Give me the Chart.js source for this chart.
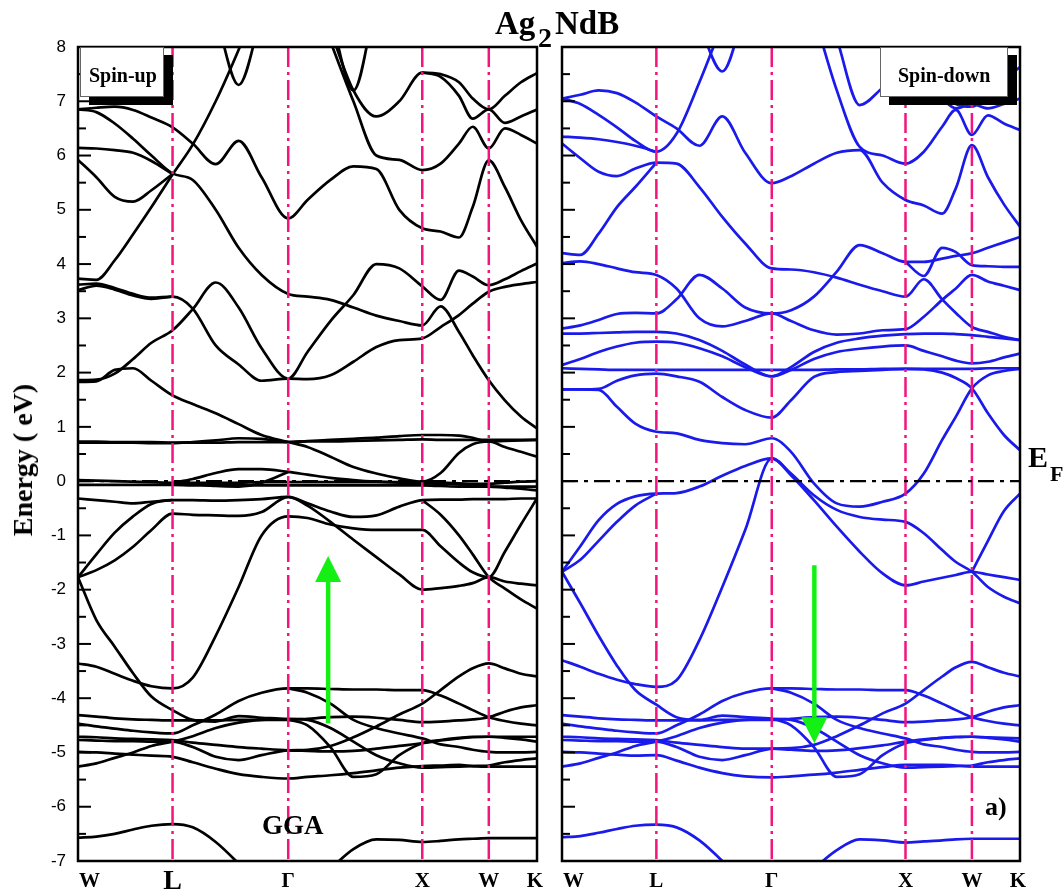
<!DOCTYPE html>
<html><head><meta charset="utf-8">
<script src="https://cdn.jsdelivr.net/npm/chart.js@4.4.1/dist/chart.umd.min.js"></script>
<style>
body{margin:0;background:#fff;}
#wrap{position:relative;width:1064px;height:890px;overflow:hidden;background:#fff}
canvas{position:absolute;left:0;top:0}
.t{position:absolute;font-family:'Liberation Serif','Times New Roman',serif;font-weight:bold;color:#000;white-space:nowrap;line-height:1}
.box{position:absolute;background:#fff;border:1px solid #666;box-shadow:9px 8px 0 0 #000;box-sizing:border-box}
</style></head><body>
<div id="wrap">
<canvas id="cUp" width="1064" height="890"></canvas>
<canvas id="cDown" width="1064" height="890"></canvas>
<div class="t" style="left:495px;top:7px;font-size:33px">Ag</div>
<div class="t" style="left:538px;top:24px;font-size:28px">2</div>
<div class="t" style="left:555px;top:7px;font-size:33px">NdB</div>
<div class="t" style="left:23px;top:460px;font-size:28px;transform:translate(-50%,-50%) rotate(-90deg)">Energy ( eV)</div>
<div class="t" style="left:1028px;top:442px;font-size:30px">E</div>
<div class="t" style="left:1050px;top:463px;font-size:22px">F</div>
<div class="box" style="left:80px;top:47px;width:84px;height:50px"></div>
<div class="t" style="left:89px;top:65px;font-size:20px">Spin-up</div>
<div class="box" style="left:880px;top:47px;width:128px;height:50px"></div>
<div class="t" style="left:898px;top:65px;font-size:20px">Spin-down</div>
<div class="t" style="left:262px;top:812px;font-size:27px">GGA</div>
<div class="t" style="left:985px;top:794px;font-size:26px">a)</div>
</div>
<script>
const N = null;
const kPath = [0,4,8,12,16,20.6,25,30,35,40,45.8,50,55,60,65,70,75,79,83,86,89.5,93,96.5,100];
const kTicks = [0,20.6,45.8,75,89.5,100];
const kLabels = ['W','L','\u0393','X','W','K'];
const nul = (n) => Array(n).fill(N);

// ---------- Spin-up bands (eV) ----------
const upBands = [
 [6.85,6.88,6.9,6.84,6.7,6.52,6.22,5.84,6.27,5.6,4.84,5.18,5.55,5.8,5.75,5.0,4.66,4.6,4.49,5.05,5.91,5.42,4.81,4.32],
 [6.85,6.8,6.59,6.31,6.0,5.67,5.55,5.0,4.3,3.8,3.45,3.4,3.34,3.2,3.05,2.95,2.87,3.22,2.75,2.32,1.86,1.49,1.19,0.97],
 [3.73,3.71,4.07,4.55,5.05,5.65,6.2,7.0,7.95,9.0,...nul(14)],
 [6.14,6.13,6.1,6.05,5.9,5.66,...nul(18)],
 [5.92,5.6,5.24,5.15,5.36,5.66,...nul(18)],
 [...nul(7),8.6,7.3,8.6,...nul(14)],
 [...nul(11),9.2,8.1,7.0,6.0,5.92,5.73,5.85,6.22,6.53,6.13,6.5,6.38,6.22],
 [...nul(12),8.3,7.2,6.72,7.0,7.53,7.5,7.35,7.05,6.85,7.1,7.35,7.52],
 [...nul(16),7.53,7.45,7.1,6.68,6.85,6.6,6.72,6.85],
 [...nul(12),8.6,7.2,8.9,...nul(9)],
 [3.62,3.64,3.56,3.45,3.38,3.40,3.18,2.5,2.15,1.85,1.89,1.88,1.95,2.2,2.47,2.6,2.63,2.84,3.06,3.27,3.49,3.58,3.63,3.67],
 [3.52,3.6,3.53,3.42,3.36,3.40,...nul(18)],
 [1.86,1.87,1.98,2.25,2.55,2.78,3.17,3.66,3.2,2.45,1.89,2.38,2.95,3.43,4.0,3.92,3.59,3.34,3.88,3.77,3.61,3.72,3.87,4.01],
 [1.83,1.84,2.05,2.08,1.85,1.58,1.42,1.25,1.05,0.85,0.72,0.63,0.45,0.26,0.14,0.05,-0.01,0.15,0.52,0.68,0.73,0.63,0.54,0.45],
 [0.73,0.73,0.72,0.72,0.72,0.71,0.71,0.71,0.72,0.72,0.72,0.73,0.73,0.74,0.75,0.76,0.77,0.76,0.76,0.76,0.76,0.76,0.76,0.76],
 [0.71,0.71,0.71,0.71,0.7,0.7,0.72,0.75,0.79,0.78,0.72,0.74,0.76,0.78,0.8,0.83,0.85,0.85,0.84,0.8,0.73,0.74,0.75,0.76],
 [0.02,0.01,0.0,-0.01,-0.02,-0.03,-0.03,-0.03,-0.03,-0.02,-0.02,-0.02,-0.02,-0.02,-0.02,-0.02,-0.02,-0.03,-0.04,-0.05,-0.05,-0.03,-0.01,0.0],
 [-0.07,-0.07,-0.07,-0.07,-0.07,-0.07,-0.08,-0.08,-0.08,-0.08,-0.08,-0.08,-0.08,-0.08,-0.08,-0.08,-0.08,-0.09,-0.1,-0.1,-0.1,-0.12,-0.14,-0.17],
 [...nul(5),-0.03,0.04,0.15,0.22,0.22,0.17,0.12,0.06,0.02,-0.01,-0.03,-0.04,-0.05,-0.06,-0.08,-0.1,-0.1,-0.1,-0.1],
 [...nul(5),-0.03,-0.05,-0.09,-0.1,-0.03,0.17,...nul(13)],
 [-0.32,-0.35,-0.38,-0.41,-0.38,-0.35,...nul(18)],
 [-1.77,-1.35,-0.95,-0.65,-0.42,-0.35,-0.35,-0.36,-0.35,-0.33,-0.29,-0.45,-0.75,-1.08,-1.4,-1.72,-2.0,-1.97,-1.93,-1.88,-1.77,-1.85,-1.89,-1.92],
 [-1.77,-1.64,-1.46,-1.21,-0.9,-0.6,-0.62,-0.63,-0.64,-0.57,-0.29,-0.41,-0.56,-0.66,-0.63,-0.47,-0.35,-0.34,-0.34,-0.33,-0.33,-0.33,-0.32,-0.32],
 [...nul(16),-0.35,-0.62,-1.0,-1.35,-1.77,-1.98,-2.18,-2.35],
 [-3.36,-3.42,-3.55,-3.68,-3.78,-3.82,-3.62,-2.85,-1.95,-1.0,-0.65,-0.68,-0.8,-0.87,-0.9,-0.9,-0.9,-1.2,-1.5,-1.68,-1.77,-1.3,-0.8,-0.32],
 [-1.77,-2.56,-3.05,-3.54,-3.97,-4.22,-4.4,-4.43,-4.33,-4.36,-4.4,-4.5,-4.9,-5.45,-5.4,-5.05,-4.83,-4.77,-4.73,-4.71,-4.71,-4.73,-4.76,-4.8],
 [-4.31,-4.34,-4.37,-4.39,-4.4,-4.41,-4.41,-4.41,-4.4,-4.4,-4.4,-4.38,-4.35,-4.34,-4.36,-4.4,-4.44,-4.43,-4.41,-4.39,-4.35,-4.25,-4.17,-4.13],
 [-4.47,-4.52,-4.56,-4.6,-4.63,-4.65,-4.5,-4.3,-4.05,-3.9,-3.82,-3.82,-3.83,-3.84,-3.84,-3.85,-3.85,-3.95,-4.1,-4.22,-4.35,-4.42,-4.47,-4.5],
 [...nul(10),-3.82,-3.9,-4.1,-4.4,-4.55,-4.65,-4.74,-4.85,-4.9,-4.95,-4.99,-5.0,-5.0,-4.99],
 [-4.71,-4.72,-4.74,-4.75,-4.76,-4.77,-4.82,-4.86,-4.9,-4.93,-4.96,-4.97,-4.98,-4.97,-4.93,-4.88,-4.83,-4.78,-4.74,-4.72,-4.71,-4.71,-4.71,-4.71],
 [-4.77,-4.78,-4.79,-4.79,-4.8,-4.8,-4.9,-5.08,-5.14,-5.05,-4.96,-4.95,-4.88,-4.72,-4.52,-4.3,-4.1,-3.85,-3.6,-3.45,-3.36,-3.45,-3.55,-3.6],
 [-4.99,-5.0,-5.02,-5.04,-5.06,-5.08,-5.18,-5.3,-5.4,-5.45,-5.48,-5.45,-5.42,-5.38,-5.33,-5.28,-5.25,-5.24,-5.23,-5.25,-5.26,-5.26,-5.26,-5.26],
 [-5.26,-5.2,-5.1,-5.0,-4.88,-4.8,-4.7,-4.55,-4.45,-4.4,-4.38,-4.4,-4.55,-4.8,-5.05,-5.2,-5.28,-5.27,-5.26,-5.25,-5.24,-5.18,-5.14,-5.11],
 [-6.57,-6.55,-6.5,-6.42,-6.35,-6.32,-6.38,-6.65,-7.05,-7.5,...nul(14)],
 [...nul(11),-7.6,-7.15,-6.78,-6.6,-6.61,-6.65,-6.63,-6.6,-6.59,-6.58,-6.58,-6.58,-6.58]
];

// ---------- Spin-down bands (eV) ----------
const downBands = [
 [7.05,7.12,7.2,7.15,6.98,6.72,6.5,6.18,6.72,6.05,5.49,5.62,5.85,6.05,6.1,5.5,5.18,5.08,4.93,5.4,6.19,5.6,5.1,4.69],
 [7.05,6.95,6.75,6.52,6.27,6.07,6.4,7.35,8.4,9.3,...nul(14)],
 [6.35,6.33,6.3,6.25,6.18,6.07,...nul(18)],
 [6.22,5.95,5.7,5.62,5.76,5.87,5.85,5.42,4.87,4.38,3.92,3.9,3.85,3.75,3.62,3.5,3.4,3.72,3.35,3.1,2.84,2.75,2.66,2.6],
 [4.2,4.17,4.56,5.05,5.42,5.87,...nul(18)],
 [...nul(7),8.4,7.55,8.7,...nul(14)],
 [...nul(12),8.6,7.2,6.16,6.0,5.85,6.07,6.53,6.84,6.38,6.74,6.59,6.47],
 [...nul(13),8.15,6.93,7.25,7.6,7.55,7.3,6.95,6.9,7.1,7.4,7.63],
 [...nul(16),7.6,7.4,7.05,6.87,6.95,6.87,6.95,7.05],
 [2.81,2.87,2.97,3.08,3.1,3.09,3.35,3.8,3.55,3.2,3.09,3.15,3.4,3.86,4.35,4.2,4.04,4.04,4.1,4.15,4.2,4.3,4.4,4.5],
 [4.02,4.05,4.0,3.92,3.85,3.8,3.55,3.0,2.85,2.95,3.09,2.95,2.78,2.7,2.72,2.78,2.8,3.03,3.34,3.55,3.8,3.68,3.6,3.52],
 [2.72,2.72,2.73,2.74,2.75,2.75,2.72,2.6,2.4,2.15,1.93,2.1,2.38,2.55,2.63,2.68,2.71,2.72,2.72,2.71,2.69,2.66,2.63,2.6],
 [2.14,2.25,2.38,2.48,2.55,2.57,2.55,2.45,2.3,2.1,1.93,2.05,2.25,2.38,2.44,2.48,2.5,2.4,2.3,2.22,2.17,2.2,2.28,2.35],
 [2.08,2.07,2.06,2.05,2.05,2.05,2.05,2.05,2.05,2.05,2.05,2.05,2.05,2.06,2.06,2.07,2.07,2.07,2.07,2.07,2.07,2.08,2.08,2.08],
 [...nul(16),4.04,3.78,4.3,4.22,3.98,3.96,3.95,3.95],
 [1.69,1.69,1.7,1.85,1.95,1.98,1.93,1.83,1.55,1.31,1.17,1.49,1.92,2.01,2.03,2.05,2.07,2.06,2.0,1.9,1.71,1.25,0.85,0.57],
 [1.69,1.69,1.68,1.37,1.06,0.91,0.88,0.76,0.7,0.68,0.79,0.54,-0.04,-0.41,-0.47,-0.38,-0.23,0.14,0.76,1.19,1.71,1.95,2.03,2.07],
 [-1.67,-1.2,-0.72,-0.42,-0.28,-0.23,-0.22,-0.1,0.1,0.28,0.42,0.14,-0.26,-0.53,-0.66,-0.71,-0.75,-0.96,-1.27,-1.49,-1.67,-1.95,-2.13,-2.25],
 [-3.3,-3.42,-3.55,-3.66,-3.74,-3.79,-3.67,-2.93,-1.95,-0.9,0.42,0.11,-0.35,-0.84,-1.3,-1.7,-1.92,-1.85,-1.78,-1.73,-1.67,-1.72,-1.77,-1.82],
 [-1.67,-1.45,-1.1,-0.75,-0.45,-0.23,...nul(18)],
 [...nul(20),-1.67,-1.1,-0.55,-0.23],
 [-1.67,-2.25,-2.85,-3.4,-3.85,-4.12,-4.35,-4.4,-4.32,-4.35,-4.38,-4.5,-4.9,-5.45,-5.4,-5.05,-4.83,-4.77,-4.73,-4.71,-4.71,-4.73,-4.76,-4.8],
 [-4.31,-4.34,-4.37,-4.39,-4.4,-4.41,-4.41,-4.41,-4.4,-4.4,-4.4,-4.38,-4.35,-4.34,-4.36,-4.4,-4.44,-4.43,-4.41,-4.39,-4.35,-4.25,-4.17,-4.13],
 [-4.47,-4.52,-4.56,-4.6,-4.63,-4.65,-4.5,-4.3,-4.05,-3.9,-3.82,-3.82,-3.83,-3.84,-3.84,-3.85,-3.85,-3.95,-4.1,-4.22,-4.35,-4.42,-4.47,-4.5],
 [...nul(10),-3.82,-3.9,-4.1,-4.4,-4.55,-4.65,-4.74,-4.85,-4.9,-4.95,-4.99,-5.0,-5.0,-4.99],
 [-4.71,-4.72,-4.74,-4.75,-4.76,-4.77,-4.82,-4.86,-4.9,-4.93,-4.93,-4.95,-4.97,-4.96,-4.92,-4.87,-4.8,-4.76,-4.73,-4.72,-4.71,-4.72,-4.73,-4.74],
 [-4.77,-4.78,-4.79,-4.79,-4.8,-4.8,-4.9,-5.08,-5.14,-5.05,-4.93,-4.92,-4.86,-4.7,-4.5,-4.28,-4.1,-3.85,-3.6,-3.43,-3.33,-3.43,-3.53,-3.6],
 [-4.99,-5.0,-5.02,-5.04,-5.06,-5.05,-5.15,-5.28,-5.38,-5.44,-5.46,-5.44,-5.41,-5.37,-5.32,-5.27,-5.23,-5.23,-5.23,-5.24,-5.26,-5.26,-5.26,-5.26],
 [-5.26,-5.2,-5.1,-5.0,-4.88,-4.8,-4.7,-4.55,-4.45,-4.4,-4.38,-4.4,-4.55,-4.8,-5.05,-5.2,-5.28,-5.27,-5.26,-5.25,-5.24,-5.18,-5.14,-5.11],
 [-6.56,-6.54,-6.48,-6.41,-6.35,-6.33,-6.38,-6.62,-7.0,-7.45,...nul(14)],
 [...nul(11),-7.6,-7.15,-6.8,-6.6,-6.62,-6.66,-6.64,-6.62,-6.6,-6.59,-6.59,-6.59,-6.59]
];

// annotation arrows in data units (k, energy)
const arrowUp = {k:54.5, from:-4.46, to:-1.38};
const arrowDown = {k:55.1, from:-1.55, to:-4.83};

const SERIF = "'Liberation Serif','Times New Roman',serif";
const SANS = "'Liberation Sans',Arial,sans-serif";

function deco(arrow, bigL){
  return {
    id:'deco',
    afterDatasetsDraw(chart){
      const {ctx, chartArea:a, scales:{x, y}} = chart;
      ctx.save();
      // high-symmetry lines
      ctx.strokeStyle = '#f2157e'; ctx.lineWidth = 2.5; ctx.setLineDash([20,5,3,5]);
      kTicks.slice(1,5).forEach(k => {
        const px = x.getPixelForValue(k);
        ctx.beginPath(); ctx.moveTo(px, a.top); ctx.lineTo(px, a.bottom); ctx.stroke();
      });
      // Fermi level
      ctx.strokeStyle = '#000'; ctx.lineWidth = 2.2; ctx.setLineDash([16,6,4,6]);
      const y0 = y.getPixelForValue(0);
      ctx.beginPath(); ctx.moveTo(a.left, y0); ctx.lineTo(a.right, y0); ctx.stroke();
      ctx.setLineDash([]);
      // arrow
      const ax = x.getPixelForValue(arrow.k), yf = y.getPixelForValue(arrow.from), yt = y.getPixelForValue(arrow.to);
      const dir = Math.sign(yt - yf), hl = 26, hw = 13;
      ctx.strokeStyle = ctx.fillStyle = '#14f014'; ctx.lineWidth = 4.5;
      ctx.beginPath(); ctx.moveTo(ax, yf); ctx.lineTo(ax, yt - dir*hl); ctx.stroke();
      ctx.beginPath(); ctx.moveTo(ax, yt); ctx.lineTo(ax - hw, yt - dir*hl); ctx.lineTo(ax + hw, yt - dir*hl); ctx.closePath(); ctx.fill();
      // frame
      ctx.strokeStyle = '#000'; ctx.lineWidth = 2.5;
      ctx.strokeRect(a.left, a.top, a.right - a.left, a.bottom - a.top);
      // inward ticks
      ctx.lineWidth = 2;
      for (let v = y.min; v <= y.max; v += 0.5) {
        const py = y.getPixelForValue(v), len = Number.isInteger(v) ? 13 : 8;
        ctx.beginPath(); ctx.moveTo(a.left, py); ctx.lineTo(a.left + len, py); ctx.stroke();
      }
      // k-point labels
      ctx.fillStyle = '#000'; ctx.textBaseline = 'alphabetic';
      kTicks.forEach((k, i) => {
        const big = bigL && i === 1;
        ctx.font = 'bold ' + (big ? 28 : 21) + 'px ' + SERIF;
        let px = x.getPixelForValue(k);
        if (i === 0) { ctx.textAlign = 'left'; px += 1; }
        else if (i === kTicks.length - 1) { ctx.textAlign = 'center'; px -= 2; }
        else ctx.textAlign = 'center';
        ctx.fillText(kLabels[i], px, big ? 889 : 887);
      });
      ctx.restore();
    }
  };
}

function makeChart(id, bands, color, opt){
  return new Chart(document.getElementById(id), {
    type:'line',
    data:{ datasets: bands.map(b => ({
      data: kPath.map((k, i) => ({x:k, y:b[i]})),
      borderColor: color, borderWidth: 2.7, pointRadius: 0, pointHoverRadius: 0,
      fill: false, cubicInterpolationMode: 'monotone', spanGaps: false, clip: 0
    }))},
    options:{
      responsive:false, animation:false, devicePixelRatio:1, events:[],
      layout:{padding:{left:0, right:opt.padRight, top:47, bottom:0}},
      plugins:{legend:{display:false}, tooltip:{enabled:false}},
      scales:{
        x:{type:'linear', min:0, max:100, grid:{display:false}, border:{display:false},
           afterBuildTicks:(ax) => { ax.ticks = kTicks.map(v => ({value:v})); },
           afterFit:(s) => { s.height = 29; },
           ticks:{display:false}},
        y:{type:'linear', min:-7, max:8, grid:{display:false}, border:{display:false},
           afterFit:(s) => { s.width = opt.yWidth; },
           ticks:{display:opt.showY, stepSize:1, color:'#000', padding:4, font:{family:SANS, size:17}}}
      }
    },
    plugins:[deco(opt.arrow, opt.bigL)]
  });
}

makeChart('cUp', upBands, '#000000', {padRight:1064-537, yWidth:78, showY:true, bigL:true, arrow:arrowUp});
makeChart('cDown', downBands, '#1a1aeb', {padRight:1064-1020, yWidth:562, showY:false, bigL:false, arrow:arrowDown});
</script>
</body></html>
